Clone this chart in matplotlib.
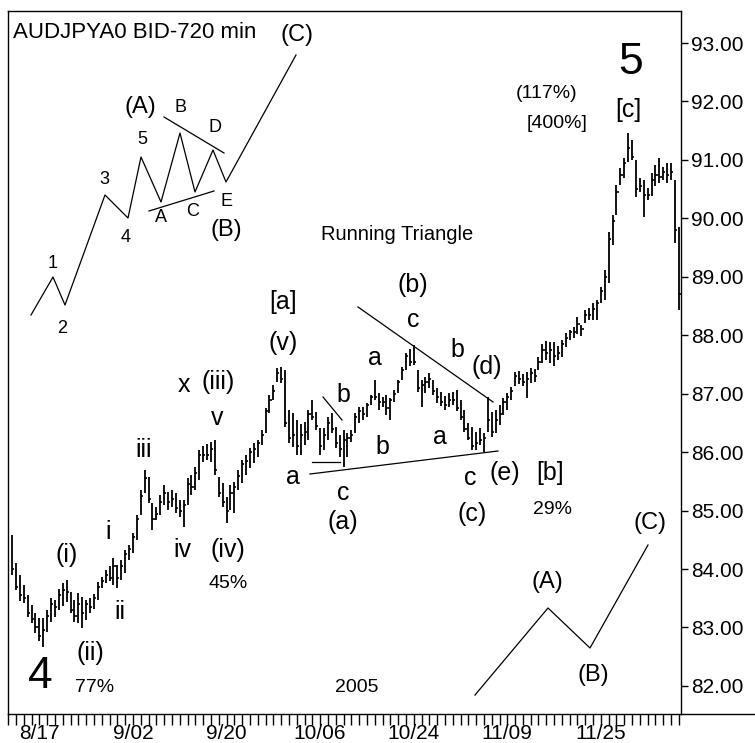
import matplotlib
matplotlib.use("Agg")
import matplotlib.pyplot as plt
from matplotlib.lines import Line2D
from matplotlib.ticker import MultipleLocator, FixedLocator, FixedFormatter
import numpy as np

# AUDJPY 720 min bars (2 bars per trading day, 8/12 .. 12/08)
bar_high = [84.58, 84.10, 83.90, 83.73, 83.56, 83.39, 83.25, 83.16, 83.16, 83.30,
            83.50, 83.47, 83.66, 83.76, 83.81, 83.61, 83.47, 83.59, 83.52, 83.47,
            83.50, 83.57, 83.78, 83.86, 83.98, 84.05, 84.19, 84.07, 84.15, 84.33,
            84.41, 84.62, 84.93, 85.35, 85.70, 85.57, 85.13, 85.06, 85.27, 85.44,
            85.32, 85.35, 85.30, 85.18, 85.18, 85.56, 85.61, 85.75, 86.04, 86.10,
            86.14, 86.17, 86.21, 85.57, 85.47, 85.23, 85.44, 85.49, 85.70, 85.87,
            85.95, 86.07, 86.16, 86.21, 86.38, 86.76, 86.98, 87.15, 87.44, 87.46,
            87.41, 86.72, 86.67, 86.55, 86.48, 86.52, 86.72, 86.89, 86.69, 86.41,
            86.41, 86.60, 86.67, 86.43, 86.29, 86.38, 86.33, 86.38, 86.67, 86.77,
            86.77, 86.84, 86.98, 87.23, 87.01, 86.94, 86.98, 86.93, 87.06, 87.23,
            87.46, 87.70, 87.77, 87.83, 87.41, 87.23, 87.29, 87.35, 87.23, 87.10,
            87.03, 86.96, 87.01, 87.03, 87.06, 86.89, 86.72, 86.50, 86.43, 86.35,
            86.41, 86.33, 86.94, 86.69, 86.72, 86.81, 86.93, 87.01, 87.11, 87.37,
            87.39, 87.34, 87.37, 87.44, 87.42, 87.63, 87.85, 87.90, 87.89, 87.89,
            87.82, 87.92, 88.04, 88.09, 88.14, 88.31, 88.18, 88.43, 88.47, 88.55,
            88.60, 88.83, 89.12, 89.77, 90.06, 90.57, 90.86, 91.03, 91.46, 91.34,
            91.00, 90.69, 90.66, 90.52, 90.78, 90.91, 91.03, 90.88, 90.95, 90.95,
            90.66, 89.85]
bar_low = [83.90, 83.64, 83.45, 83.42, 83.18, 83.08, 82.91, 82.77, 82.67, 82.92,
           83.09, 83.18, 83.30, 83.37, 83.44, 83.24, 83.09, 83.08, 82.99, 83.13,
           83.25, 83.32, 83.47, 83.68, 83.76, 83.80, 83.73, 83.68, 83.81, 83.93,
           84.15, 84.27, 84.50, 84.93, 85.30, 85.13, 84.67, 84.84, 84.93, 85.10,
           85.01, 85.06, 84.96, 84.89, 84.72, 85.10, 85.27, 85.35, 85.52, 85.83,
           85.87, 85.83, 85.61, 85.23, 85.06, 84.79, 85.01, 84.96, 85.35, 85.47,
           85.61, 85.73, 85.81, 85.92, 86.12, 86.33, 86.67, 86.89, 87.20, 87.18,
           86.43, 86.16, 86.09, 85.95, 85.95, 86.12, 86.21, 86.55, 86.38, 85.95,
           86.04, 86.21, 86.33, 86.07, 85.92, 85.75, 85.92, 86.17, 86.33, 86.50,
           86.55, 86.60, 86.81, 86.89, 86.72, 86.77, 86.64, 86.55, 86.86, 87.01,
           87.23, 87.41, 87.47, 87.49, 87.03, 86.77, 87.01, 87.10, 86.98, 86.84,
           86.79, 86.72, 86.77, 86.81, 86.70, 86.55, 86.35, 86.21, 86.04, 86.04,
           86.12, 86.00, 86.35, 86.26, 86.33, 86.46, 86.64, 86.72, 86.89, 87.13,
           87.17, 87.13, 86.93, 87.18, 87.20, 87.41, 87.53, 87.58, 87.53, 87.47,
           87.58, 87.63, 87.80, 87.92, 87.95, 88.02, 87.99, 88.21, 88.26, 88.26,
           88.26, 88.55, 88.60, 88.89, 89.54, 90.06, 90.57, 90.69, 90.97, 91.00,
           90.37, 90.45, 90.02, 90.31, 90.38, 90.55, 90.61, 90.66, 90.61, 90.66,
           89.58, 88.43]
bar_close = [84.00, 83.70, 83.55, 83.50, 83.25, 83.15, 83.00, 82.85, 82.95, 83.20,
             83.40, 83.35, 83.55, 83.65, 83.60, 83.30, 83.20, 83.40, 83.25, 83.40,
             83.35, 83.50, 83.70, 83.80, 83.90, 83.85, 84.05, 83.85, 84.05, 84.25,
             84.35, 84.55, 84.85, 85.25, 85.55, 85.20, 84.85, 84.95, 85.15, 85.30,
             85.15, 85.20, 85.05, 85.00, 85.10, 85.45, 85.40, 85.65, 85.95, 85.95,
             85.95, 86.05, 85.70, 85.30, 85.15, 85.00, 85.30, 85.40, 85.60, 85.80,
             85.85, 86.00, 86.05, 86.15, 86.30, 86.70, 86.90, 87.05, 87.35, 87.25,
             86.50, 86.25, 86.30, 86.10, 86.30, 86.35, 86.65, 86.60, 86.45, 86.10,
             86.30, 86.50, 86.40, 86.15, 86.05, 86.20, 86.25, 86.30, 86.60, 86.70,
             86.65, 86.80, 86.95, 86.95, 86.85, 86.85, 86.75, 86.90, 87.00, 87.20,
             87.40, 87.65, 87.55, 87.55, 87.10, 87.15, 87.20, 87.25, 87.05, 86.95,
             86.85, 86.80, 86.90, 86.90, 86.75, 86.60, 86.40, 86.25, 86.10, 86.15,
             86.20, 86.25, 86.55, 86.35, 86.55, 86.65, 86.85, 86.95, 87.05, 87.30,
             87.25, 87.20, 87.25, 87.35, 87.30, 87.55, 87.75, 87.70, 87.75, 87.65,
             87.70, 87.85, 87.95, 88.05, 88.05, 88.20, 88.10, 88.35, 88.35, 88.45,
             88.55, 88.75, 89.00, 89.65, 89.95, 90.45, 90.75, 90.95, 91.20, 91.05,
             90.50, 90.55, 90.40, 90.40, 90.65, 90.75, 90.70, 90.80, 90.75, 90.80,
             89.80, 88.70]

date_labels = ["8/17", "9/02", "9/20", "10/06", "10/24", "11/09", "11/25"]
date_days = [3, 15, 27, 39, 51, 63, 75]      # trading day number of each label
price_ticks = [82, 83, 84, 85, 86, 87, 88, 89, 90, 91, 92, 93]

FONT = "Liberation Sans"
W, H = 755, 743
AX_L, AX_R, AX_T, AX_B = 8, 681, 11, 714

fig = plt.figure(figsize=(W / 100, H / 100), dpi=100)
ax = fig.add_axes([AX_L / W, (H - AX_B) / H, (AX_R - AX_L) / W, (AX_B - AX_T) / H])

def px(x, y):
    # picture pixel -> axes fraction, only for the hand drawn notes
    return (x - AX_L) / (AX_R - AX_L), (AX_B - y) / (AX_B - AX_T)

idx = np.arange(len(bar_close))
ax.vlines(idx, bar_low, bar_high, color="black", lw=1.3)
ax.hlines(bar_close, idx, idx + 0.55, color="black", lw=1.2)

ax.set_xlim(-1.03, 171.54)
ax.set_ylim(81.52, 93.548)

# axes styling
for s in ax.spines.values():
    s.set_linewidth(1.0)
ax.yaxis.tick_right()
ax.set_yticks(price_ticks)
ax.set_yticklabels(["%.2f" % p for p in price_ticks], family=FONT, fontsize=15)
ax.tick_params(axis="y", direction="out", length=5, width=1, pad=2)

ax.xaxis.set_major_locator(FixedLocator([2 * d + 1 for d in date_days]))
ax.xaxis.set_major_formatter(FixedFormatter(date_labels))
ax.xaxis.set_minor_locator(MultipleLocator(2, offset=1))
ax.tick_params(axis="x", which="both", direction="out", length=8, width=1, pad=-1)
for t in ax.get_xticklabels():
    t.set_family(FONT)
    t.set_fontsize(15)
fig.add_artist(Line2D([AX_R / W, 1.0], [(H - AX_B) / H] * 2, color="black", lw=1.0))

# schematic in the upper left
zig_x = [31, 53, 65, 105, 128, 141, 161, 180, 195, 213, 226, 296]
zig_y = [315, 277, 305, 195, 218, 157, 202, 133, 192, 150, 182, 55]
pts = [px(a, b) for a, b in zip(zig_x, zig_y)]
ax.plot([p[0] for p in pts], [p[1] for p in pts], color="black", lw=0.9, transform=ax.transAxes)

# schematic in the lower right
abc_x = [475, 548, 590, 648]
abc_y = [695, 608, 648, 545]
pts = [px(a, b) for a, b in zip(abc_x, abc_y)]
ax.plot([p[0] for p in pts], [p[1] for p in pts], color="black", lw=0.9, transform=ax.transAxes)

# trend lines
seg_list = [((164, 117), (224, 153)), ((149, 211), (214, 191)),
            ((310, 474), (498, 451)), ((358, 307), (493, 402)),
            ((312, 462), (340, 462)), ((323, 397), (342, 420))]
for a, b in seg_list:
    p1, p2 = px(*a), px(*b)
    ax.plot([p1[0], p2[0]], [p1[1], p2[1]], color="black", lw=0.9, transform=ax.transAxes)

notes = [
    ("(C)", 297, 35, 17), ("(A)", 140, 107, 17), ("B", 181, 108, 13), ("D", 215, 127, 13),
    ("5", 142, 140, 13), ("3", 104, 180, 13), ("A", 161, 218, 13), ("C", 193, 212, 13),
    ("E", 226, 202, 13), ("(B)", 226, 230, 17), ("4", 126, 238, 13), ("1", 53, 263, 13),
    ("2", 62, 328, 13),
    ("4", 40, 677, 32), ("77%", 95, 687, 14), ("(ii)", 90, 653, 18), ("(i)", 67, 555, 18),
    ("i", 108, 532, 18), ("ii", 120, 612, 18), ("iii", 144, 450, 18), ("iv", 182, 550, 18),
    ("(iv)", 228, 550, 18), ("45%", 228, 583, 14), ("x", 184, 385, 18), ("(iii)", 218, 382, 18),
    ("v", 217, 418, 18), ("[a]", 283, 302, 18), ("(v)", 283, 343, 18), ("b", 343, 395, 18),
    ("a", 293, 477, 18), ("c", 343, 493, 18), ("(a)", 343, 522, 18), ("a", 375, 358, 18),
    ("b", 382, 447, 18), ("Running Triangle", 397, 235, 14.5), ("(b)", 413, 285, 18),
    ("c", 413, 320, 18), ("b", 457, 350, 18), ("(d)", 487, 367, 18), ("a", 440, 437, 18),
    ("c", 470, 478, 18), ("(e)", 505, 473, 18), ("[b]", 550, 473, 18), ("(c)", 472, 514, 18),
    ("29%", 553, 510, 14), ("(A)", 547, 582, 17), ("(B)", 593, 675, 17), ("(C)", 650, 523, 17),
    ("(117%)", 547, 93, 14), ("[400%]", 557, 123, 14), ("[c]", 628, 110, 18),
    ("5", 631, 63, 32), ("2005", 357, 687, 14),
]
for txt, x, y, size in notes:
    fx, fy = px(x, y)
    ax.text(fx, fy, txt, transform=ax.transAxes, ha="center", va="center",
            family=FONT, fontsize=size, color="black")

fx, fy = px(13, 32)
ax.text(fx, fy, "AUDJPYA0 BID-720 min", transform=ax.transAxes, ha="left", va="center",
        family=FONT, fontsize=16, color="black")

fig.savefig("out.png", dpi=100, facecolor="white")
